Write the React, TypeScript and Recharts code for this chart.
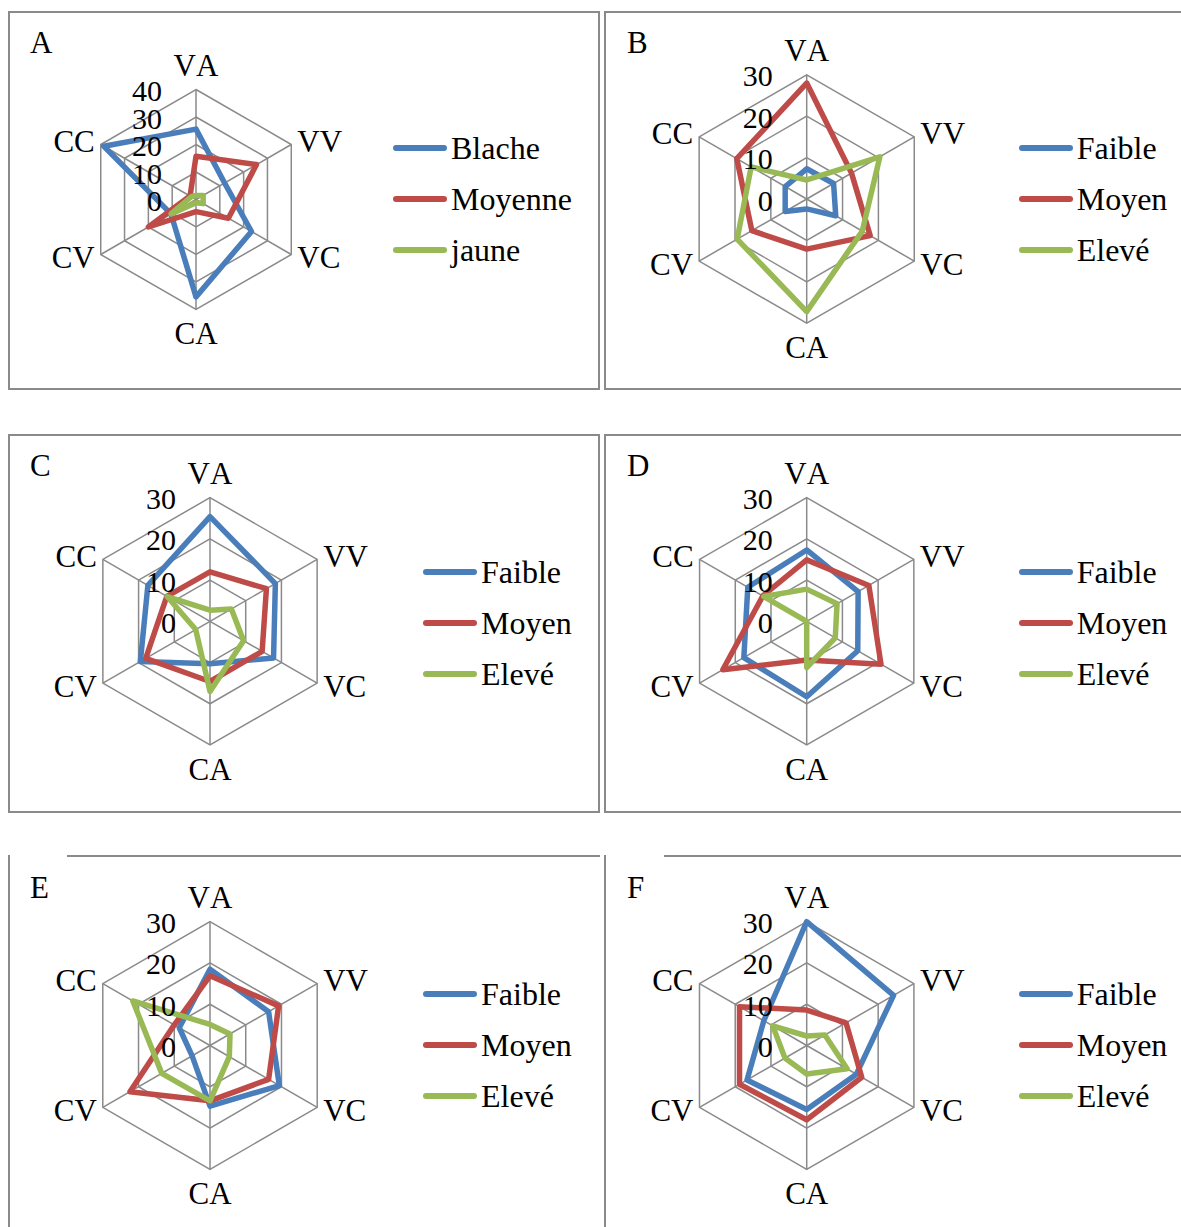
import React from "react";
import {
  Legend,
  PolarAngleAxis,
  PolarGrid,
  PolarRadiusAxis,
  Radar,
  RadarChart
} from "recharts";

const axes = ["VA", "VV", "VC", "CA", "CV", "CC"];

const namesA = ["Blache", "Moyenne", "jaune"];
const names = ["Faible", "Moyen", "Elevé"];
const colors = ["#4A7EBB", "#BE4B48", "#98B954"];

const ticksA = [0, 10, 20, 30, 40];
const ticks = [0, 10, 20, 30];

// A
const aBlache = [25.6, 12, 23.3, 35.4, 10.5, 38.7];
const aMoyenne = [15.7, 25.4, 13.6, 4.4, 20, 2.5];
const aJaune = [1.5, 3, 3, 1.2, 10.5, 2];
// B
const bFaible = [7.3, 7.5, 8.1, 2.4, 6, 6];
const bMoyen = [28, 12.5, 17.7, 12.1, 15.3, 19.5];
const bEleve = [4.6, 20.4, 15.5, 27.2, 19.4, 15.5];
// C
const cFaible = [25.4, 18.3, 17.8, 10.3, 19.5, 17.4];
const cMoyen = [12, 15.8, 14.6, 14.6, 18, 12.1];
const cEleve = [2.7, 6, 9.4, 17, 4, 12];
// D
const dFaible = [17.3, 14.4, 14.3, 18.3, 17.6, 16.5];
const dMoyen = [14.9, 17.4, 20.8, 9.4, 23.5, 12.3];
const dEleve = [7.8, 8.5, 8, 11.2, 0, 12];
// E
const eFaible = [18.5, 16.4, 19.4, 14.7, 5, 8.6];
const eMoyen = [16.9, 19.2, 16.4, 13.4, 22.4, 10];
const eEleve = [5.1, 5.6, 5.4, 13.4, 13.5, 21.6];
// F
const fFaible = [30, 24.3, 13.9, 15.5, 16.7, 12];
const fMoyen = [8.6, 11, 15.4, 18, 18.8, 18.8];
const fEleve = [2.3, 5.1, 11.3, 6.9, 6.1, 9.5];

const FONT = "'Liberation Serif', 'Times New Roman', serif";
const GRID = "#8a8a8a";

function AngleTick(props: any) {
  const { x, y, payload, ox, oy, r } = props;
  const dx = x - ox;
  const dy = y - oy;
  const len = Math.sqrt(dx * dx + dy * dy) || 1;
  const c = dx / len;
  const s = dy / len;
  const vx = ox + r * c;
  const vy = oy + r * s;
  let tx = vx;
  let ty = vy;
  let anchor = "middle";
  if (Math.abs(c) < 0.01) {
    ty = vy + 24 * Math.sign(s);
  } else {
    anchor = c > 0 ? "start" : "end";
    tx = vx + 6 * Math.sign(c);
    ty = vy + 3 * Math.sign(s);
  }
  return (
    <text
      x={tx}
      y={ty}
      textAnchor={anchor}
      dominantBaseline="central"
      fontSize={31}
      fontFamily={FONT}
      fill="#000"
      style={{ fontKerning: "none" }}
    >
      {payload.value}
    </text>
  );
}

function RadiusTick(props: any) {
  const { x, y, payload } = props;
  return (
    <text
      x={x - 34}
      y={y + 1}
      textAnchor="end"
      dominantBaseline="central"
      fontSize={30}
      fontFamily={FONT}
      fill="#000"
    >
      {payload.value}
    </text>
  );
}

function LegendBox({ payload, order }: any) {
  const items = [...(payload || [])].sort(
    (a: any, b: any) => order.indexOf(a.value) - order.indexOf(b.value)
  );
  return (
    <div style={{ display: "flex", flexDirection: "column" }}>
      {items.map((e: any) => (
        <div
          key={e.value}
          style={{ height: 51, display: "flex", alignItems: "center" }}
        >
          <div
            style={{
              width: 54,
              height: 6,
              flexShrink: 0,
              background: e.color,
              borderRadius: 3,
              marginRight: 4
            }}
          />
          <span
            style={{
              fontSize: 32,
              lineHeight: 1,
              color: "#000",
              fontFamily: FONT,
              whiteSpace: "nowrap"
            }}
          >
            {e.value}
          </span>
        </div>
      ))}
    </div>
  );
}

type PanelProps = {
  letter: string;
  left: number;
  top: number;
  cx: number;
  cy: number;
  r: number;
  series: number[][];
  labels: string[];
  tickValues: number[];
  legendX: number;
  legendY: number;
};

function Panel(p: PanelProps) {
  const data = axes.map((axis, i) => {
    const row: any = { axis };
    p.series.forEach((s, j) => {
      row["s" + j] = s[i];
    });
    return row;
  });
  const max = p.tickValues[p.tickValues.length - 1];
  return (
    <div style={{ position: "absolute", left: p.left, top: p.top }}>
      <div
        style={{
          position: "absolute",
          left: 22,
          top: 14,
          fontSize: 31,
          lineHeight: "36px",
          fontFamily: FONT,
          zIndex: 2
        }}
      >
        {p.letter}
      </div>
      <RadarChart
        width={590}
        height={370}
        data={data}
        cx={p.cx}
        cy={p.cy}
        outerRadius={p.r}
        margin={{ top: 0, right: 0, bottom: 0, left: 0 }}
        style={{ fontFamily: FONT }}
      >
        <PolarGrid gridType="polygon" stroke={GRID} strokeWidth={1.5} />
        <PolarAngleAxis
          dataKey="axis"
          tickLine={false}
          axisLine={false}
          tick={<AngleTick ox={p.cx} oy={p.cy} r={p.r} />}
        />
        <PolarRadiusAxis
          angle={90}
          domain={[0, max]}
          tickCount={p.tickValues.length}
          axisLine={false}
          tickLine={false}
          tick={<RadiusTick />}
        />
        {p.series.map((_, j) => (
          <Radar
            key={j}
            name={p.labels[j]}
            dataKey={"s" + j}
            stroke={colors[j]}
            strokeWidth={5.5}
            strokeLinejoin="round"
            fill="none"
            fillOpacity={0}
            dot={false}
            isAnimationActive={false}
          />
        ))}
        <Legend
          layout="vertical"
          align="right"
          verticalAlign="top"
          wrapperStyle={{
            position: "absolute",
            left: p.legendX,
            top: p.legendY,
            width: 200,
            right: "auto"
          }}
          content={(props: any) => (
            <LegendBox payload={props.payload} order={p.labels} />
          )}
        />
      </RadarChart>
    </div>
  );
}

const border = `2px solid ${GRID}`;

export default function App() {
  return (
    <div
      style={{
        position: "fixed",
        left: 0,
        top: 0,
        width: 1181,
        height: 1227,
        overflow: "hidden",
        background: "#fff",
        fontFamily: FONT
      }}
    >
      {/* frames */}
      <div style={{ position: "absolute", left: 8, top: 11, width: 588, height: 375, border }} />
      <div style={{ position: "absolute", left: 604, top: 11, width: 700, height: 375, border }} />
      <div style={{ position: "absolute", left: 8, top: 434, width: 588, height: 375, border }} />
      <div style={{ position: "absolute", left: 604, top: 434, width: 700, height: 375, border }} />
      <div style={{ position: "absolute", left: 8, top: 855, width: 0, height: 400, borderLeft: border }} />
      <div style={{ position: "absolute", left: 67, top: 855, width: 533, height: 0, borderTop: border }} />
      <div style={{ position: "absolute", left: 604, top: 855, width: 0, height: 400, borderLeft: border }} />
      <div style={{ position: "absolute", left: 664, top: 855, width: 600, height: 0, borderTop: border }} />

      <Panel letter="A" left={8} top={11} cx={188} cy={188.5} r={110}
        series={[aBlache, aMoyenne, aJaune]} labels={namesA} tickValues={ticksA}
        legendX={385} legendY={111.5} />
      <Panel letter="B" left={605} top={11} cx={201.7} cy={188} r={124.2}
        series={[bFaible, bMoyen, bEleve]} labels={names} tickValues={ticks}
        legendX={413.7} legendY={111.5} />
      <Panel letter="C" left={8} top={434} cx={202} cy={187.3} r={123.7}
        series={[cFaible, cMoyen, cEleve]} labels={names} tickValues={ticks}
        legendX={415} legendY={112.2} />
      <Panel letter="D" left={605} top={434} cx={201.7} cy={187.3} r={123.7}
        series={[dFaible, dMoyen, dEleve]} labels={names} tickValues={ticks}
        legendX={413.7} legendY={112.2} />
      <Panel letter="E" left={8} top={856} cx={202} cy={189.5} r={123.8}
        series={[eFaible, eMoyen, eEleve]} labels={names} tickValues={ticks}
        legendX={415} legendY={112.5} />
      <Panel letter="F" left={605} top={856} cx={201.7} cy={189.5} r={123.8}
        series={[fFaible, fMoyen, fEleve]} labels={names} tickValues={ticks}
        legendX={413.7} legendY={112.5} />
    </div>
  );
}
